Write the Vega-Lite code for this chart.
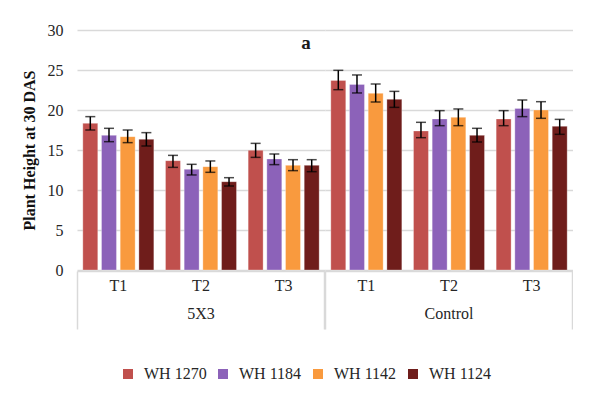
{
  "$schema": "https://vega.github.io/schema/vega-lite/v6.json",
  "padding": {"left": 21, "top": 22, "right": 0, "bottom": 0},
  "title": {"text": "a", "font": "Liberation Serif", "fontSize": 19, "fontWeight": "bold", "color": "#1a1a1a", "anchor": "middle", "offset": -31, "dx": 9},
  "data": {"values": [
    {"group": "5X3", "t": "T1", "variety": "WH 1270", "value": 18.33, "lo": 17.5, "hi": 19.17},
    {"group": "5X3", "t": "T1", "variety": "WH 1184", "value": 16.83, "lo": 16.04, "hi": 17.71},
    {"group": "5X3", "t": "T1", "variety": "WH 1142", "value": 16.67, "lo": 15.92, "hi": 17.5},
    {"group": "5X3", "t": "T1", "variety": "WH 1124", "value": 16.33, "lo": 15.5, "hi": 17.17},
    {"group": "5X3", "t": "T2", "variety": "WH 1270", "value": 13.67, "lo": 12.83, "hi": 14.33},
    {"group": "5X3", "t": "T2", "variety": "WH 1184", "value": 12.58, "lo": 11.88, "hi": 13.21},
    {"group": "5X3", "t": "T2", "variety": "WH 1142", "value": 12.92, "lo": 12.21, "hi": 13.63},
    {"group": "5X3", "t": "T2", "variety": "WH 1124", "value": 11.04, "lo": 10.5, "hi": 11.54},
    {"group": "5X3", "t": "T3", "variety": "WH 1270", "value": 14.96, "lo": 14.08, "hi": 15.83},
    {"group": "5X3", "t": "T3", "variety": "WH 1184", "value": 13.88, "lo": 13.17, "hi": 14.5},
    {"group": "5X3", "t": "T3", "variety": "WH 1142", "value": 13.08, "lo": 12.42, "hi": 13.79},
    {"group": "5X3", "t": "T3", "variety": "WH 1124", "value": 13.08, "lo": 12.29, "hi": 13.79},
    {"group": "Control", "t": "T1", "variety": "WH 1270", "value": 23.7, "lo": 22.54, "hi": 24.96},
    {"group": "Control", "t": "T1", "variety": "WH 1184", "value": 23.2, "lo": 22.13, "hi": 24.38},
    {"group": "Control", "t": "T1", "variety": "WH 1142", "value": 22.08, "lo": 21.0, "hi": 23.25},
    {"group": "Control", "t": "T1", "variety": "WH 1124", "value": 21.33, "lo": 20.33, "hi": 22.33},
    {"group": "Control", "t": "T2", "variety": "WH 1270", "value": 17.38, "lo": 16.54, "hi": 18.46},
    {"group": "Control", "t": "T2", "variety": "WH 1184", "value": 18.88, "lo": 18.04, "hi": 19.92},
    {"group": "Control", "t": "T2", "variety": "WH 1142", "value": 19.08, "lo": 18.04, "hi": 20.13},
    {"group": "Control", "t": "T2", "variety": "WH 1124", "value": 16.83, "lo": 16.0, "hi": 17.71},
    {"group": "Control", "t": "T3", "variety": "WH 1270", "value": 18.88, "lo": 18.04, "hi": 19.92},
    {"group": "Control", "t": "T3", "variety": "WH 1184", "value": 20.2, "lo": 19.17, "hi": 21.25},
    {"group": "Control", "t": "T3", "variety": "WH 1142", "value": 20.0, "lo": 18.96, "hi": 21.04},
    {"group": "Control", "t": "T3", "variety": "WH 1124", "value": 17.96, "lo": 16.96, "hi": 18.83}
  ]},
  "facet": {"column": {"field": "group", "type": "nominal", "sort": ["5X3", "Control"],
    "header": {"title": null, "labelOrient": "bottom", "labelFont": "Liberation Serif", "labelFontSize": 16, "labelColor": "#262626", "labelPadding": -24}}},
  "spacing": 0,
  "spec": {
    "width": 248,
    "height": 240,
    "layer": [
      {
        "mark": {"type": "bar", "stroke": "#ffffff", "strokeOpacity": 0.5, "strokeWidth": 0.6},
        "encoding": {
          "x": {"field": "t", "type": "nominal", "scale": {"paddingInner": 0.141, "paddingOuter": 0.0705},
            "axis": {"orient": "bottom", "title": null, "labelAngle": 0, "ticks": false, "domain": true, "domainColor": "#d9d9d9", "domainWidth": 1.5, "labelPadding": 6, "labelFont": "Liberation Serif", "labelFontSize": 16, "labelColor": "#262626", "grid": false}},
          "xOffset": {"field": "variety", "type": "nominal", "sort": ["WH 1270", "WH 1184", "WH 1142", "WH 1124"], "scale": {"paddingInner": 0.2, "paddingOuter": 0}},
          "y": {"field": "value", "type": "quantitative", "scale": {"domain": [0, 30]}, "title": "Plant Height at 30 DAS",
            "axis": {"title": "Plant Height at 30 DAS", "values": [0, 5, 10, 15, 20, 25, 30], "labelOverlap": false}},
          "color": {"field": "variety", "type": "nominal", "sort": ["WH 1270", "WH 1184", "WH 1142", "WH 1124"],
            "scale": {"domain": ["WH 1270", "WH 1184", "WH 1142", "WH 1124"], "range": ["#C0504D", "#8C62B9", "#F99A3E", "#6F1D1B"]},
            "legend": {"orient": "none", "legendX": 43, "legendY": 336, "direction": "horizontal", "title": null, "symbolType": "square", "symbolSize": 100, "symbolStrokeWidth": 0, "labelFont": "Liberation Serif", "labelFontSize": 16, "labelColor": "#262626", "columnPadding": 8, "labelOffset": 8}}
        }
      },
      {
        "mark": {"type": "rule", "color": "#000000", "strokeWidth": 1.5},
        "encoding": {
          "x": {"field": "t", "type": "nominal", "scale": {"paddingInner": 0.141, "paddingOuter": 0.0705},
            "axis": {"orient": "bottom", "title": null, "values": ["T1"], "bandPosition": -0.082, "labels": false, "domain": false, "ticks": true, "tickSize": 58, "tickColor": "#d9d9d9", "tickWidth": 1.5, "grid": false}},
          "xOffset": {"field": "variety", "type": "nominal", "sort": ["WH 1270", "WH 1184", "WH 1142", "WH 1124"]},
          "y": {"field": "lo", "type": "quantitative", "title": "Plant Height at 30 DAS",
            "axis": {"title": "Plant Height at 30 DAS", "values": [0, 5, 10, 15, 20, 25, 30], "labelOverlap": false}},
          "y2": {"field": "hi"}
        }
      },
      {
        "mark": {"type": "tick", "color": "#000000", "size": 10, "thickness": 1.5},
        "encoding": {
          "x": {"field": "t", "type": "nominal", "scale": {"paddingInner": 0.141, "paddingOuter": 0.0705},
            "axis": {"orient": "bottom", "title": null, "values": ["T3"], "bandPosition": 1.082, "labels": false, "domain": false, "ticks": true, "tickSize": 58, "tickColor": "#d9d9d9", "tickWidth": 1.5, "grid": false}},
          "xOffset": {"field": "variety", "type": "nominal", "sort": ["WH 1270", "WH 1184", "WH 1142", "WH 1124"]},
          "y": {"field": "hi", "type": "quantitative", "title": "Plant Height at 30 DAS",
            "axis": {"title": "Plant Height at 30 DAS", "values": [0, 5, 10, 15, 20, 25, 30], "labelOverlap": false}}
        }
      },
      {
        "mark": {"type": "tick", "color": "#000000", "size": 10, "thickness": 1.5},
        "encoding": {
          "x": {"field": "t", "type": "nominal", "scale": {"paddingInner": 0.141, "paddingOuter": 0.0705}, "axis": null},
          "xOffset": {"field": "variety", "type": "nominal", "sort": ["WH 1270", "WH 1184", "WH 1142", "WH 1124"]},
          "y": {"field": "lo", "type": "quantitative", "title": "Plant Height at 30 DAS",
            "axis": {"title": "Plant Height at 30 DAS", "values": [0, 5, 10, 15, 20, 25, 30], "labelOverlap": false}}
        }
      }
    ],
    "resolve": {"axis": {"x": "independent"}}
  },
  "config": {
    "view": {"stroke": null},
    "background": "#ffffff",
    "axisY": {"domain": false, "ticks": false, "labelPadding": 14, "labelFont": "Liberation Serif", "labelFontSize": 16, "labelColor": "#262626", "gridColor": "#d9d9d9", "gridWidth": 1.3, "titleFont": "Liberation Serif", "titleFontSize": 16, "titleFontWeight": "bold", "titleColor": "#111111", "titlePadding": 10}
  }
}
